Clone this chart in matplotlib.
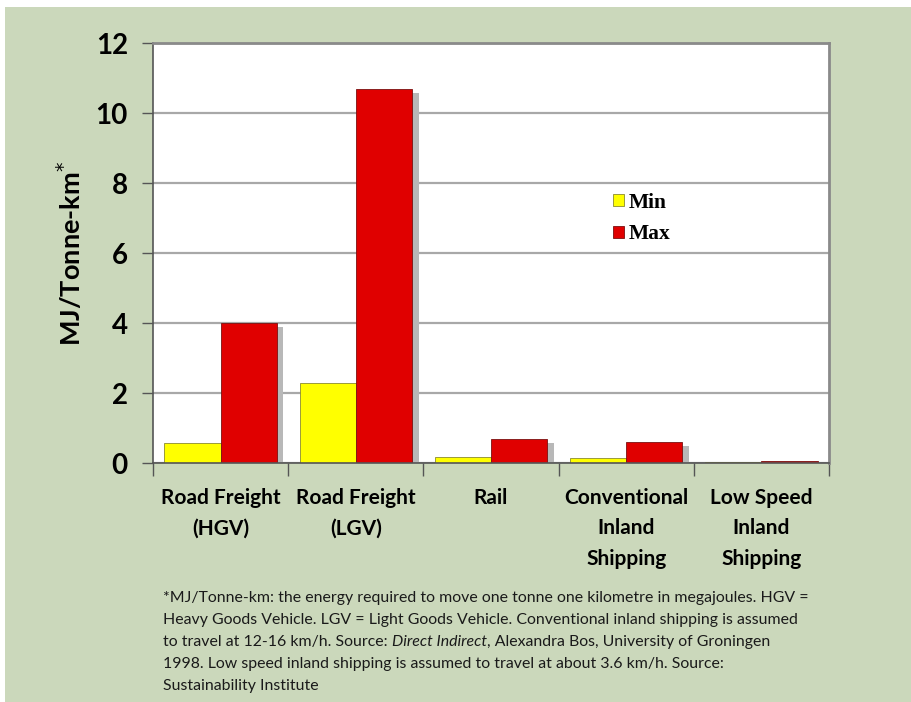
import numpy as np
import matplotlib.pyplot as plt

categories = ['Road Freight\n(HGV)', 'Road Freight\n(LGV)', 'Rail',
              'Conventional\nInland\nShipping', 'Low Speed\nInland\nShipping']
min_vals = [0.57, 2.3, 0.17, 0.15, 0.03]
max_vals = [4.0, 10.7, 0.68, 0.6, 0.07]
yticks = [0, 2, 4, 6, 8, 10, 12]

bg = '#cbd8bb'
fig = plt.figure(figsize=(9.11, 7.02), dpi=100)
fig.patch.set_facecolor('white')
# green panel (small white margin on left/top like the source)
fig.patches.append(plt.Rectangle((5 / 911, 0), 1, 1 - 7 / 702, transform=fig.transFigure,
                                 facecolor=bg, edgecolor='none', zorder=-10))

ax = fig.add_axes([153 / 911, 1 - 463 / 702, 676 / 911, 420 / 702])
ax.set_facecolor('white')

x = np.arange(len(categories))
w = 0.415
# shadows
ax.bar(x + w / 2 + 0.05, np.array(max_vals) - 0.12, w, bottom=0, color='#b8b8b8', zorder=1)
ax.bar(x - w / 2, min_vals, w, color='#ffff00', edgecolor='#8a8a30', linewidth=0.6, zorder=2, label='Min')
ax.bar(x + w / 2, max_vals, w, color='#e00000', edgecolor='#7a1010', linewidth=0.6, zorder=2, label='Max')

ax.set_xlim(-0.5, len(categories) - 0.5)
ax.set_ylim(0, 12)
ax.set_yticks(yticks)
ax.set_yticklabels([str(t) for t in yticks], fontsize=20, fontweight='bold', family='Lato')
ax.yaxis.grid(True, color='#a8a8a8', linewidth=1.6, zorder=0)
ax.set_axisbelow(True)
ax.tick_params(axis='y', length=8, width=1, color='#555555', pad=10)

ax.set_xticks(x)
ax.set_xticklabels(categories, fontsize=15, fontweight='bold', family='Lato', linespacing=1.65, va='top')
ax.tick_params(axis='x', length=0, pad=18)
ax.set_xticks(np.arange(len(categories) + 1) - 0.5, minor=True)
ax.tick_params(axis='x', which='minor', length=9, width=1, color='#555555')

for s in ['left', 'bottom']:
    ax.spines[s].set_color('#555555')
    ax.spines[s].set_linewidth(1.2)
for s in ['top', 'right']:
    ax.spines[s].set_color('#8a8a8a')
    ax.spines[s].set_linewidth(2)

ax.set_ylabel('MJ/Tonne-km$^{*}$', fontsize=19.5, fontweight='bold', family='Lato', labelpad=8)

leg = ax.legend(loc='upper left', bbox_to_anchor=(0.652, 0.69), frameon=False,
                prop={'family': 'Liberation Serif', 'weight': 'bold', 'size': 15.5},
                handlelength=0.5, handleheight=0.5, handletextpad=0.2, labelspacing=0.55)

fs = 11.4
fam = 'Lato'
lines = [
    '*MJ/Tonne-km: the energy required to move one tonne one kilometre in megajoules. HGV =',
    'Heavy Goods Vehicle. LGV = Light Goods Vehicle. Conventional inland shipping is assumed',
    None,
    '1998. Low speed inland shipping is assumed to travel at about 3.6 km/h. Source:',
    'Sustainability Institute',
]
x0 = 163 / 911
y0 = 1 - 598 / 702
dy = 22 / 702
fig.canvas.draw()
r = fig.canvas.get_renderer()
for i, ln in enumerate(lines):
    yy = y0 - i * dy
    if ln is not None:
        fig.text(x0, yy, ln, fontsize=fs, family=fam, va='center', color='#1a1a1a')
    else:
        t1 = fig.text(x0, yy, 'to travel at 12-16 km/h. Source: ', fontsize=fs, family=fam,
                      va='center', color='#1a1a1a')
        bb = t1.get_window_extent(r)
        t2 = fig.text(bb.x1 / fig.bbox.width, yy, 'Direct Indirect', fontsize=fs, family=fam,
                      style='italic', va='center', color='#1a1a1a')
        bb2 = t2.get_window_extent(r)
        fig.text(bb2.x1 / fig.bbox.width, yy, ', Alexandra Bos, University of Groningen',
                 fontsize=fs, family=fam, va='center', color='#1a1a1a')

fig.savefig('out.png', dpi=100, facecolor=fig.get_facecolor())
